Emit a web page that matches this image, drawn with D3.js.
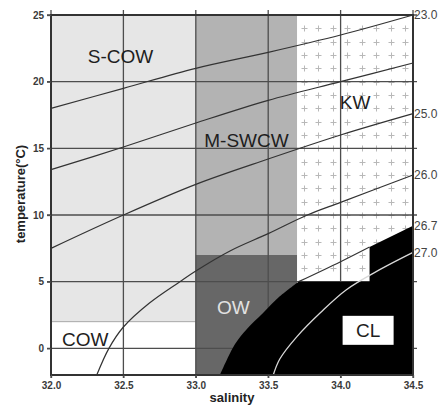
<!DOCTYPE html>
<html>
<head>
<meta charset="utf-8">
<script src="https://cdn.jsdelivr.net/npm/d3@7"></script>
<style>
  body { margin: 0; background: #fff; }
  svg { display: block; font-family: "Liberation Sans", Arial, Helvetica, sans-serif; }
</style>
</head>
<body>
<svg id="chart" width="443" height="407"></svg>
<script>
// T-S diagram: water mass domains with sigma-t isopycnals

const salinityTicks = [32.0, 32.5, 33.0, 33.5, 34.0, 34.5];
const temperatureTicks = [0, 5, 10, 15, 20, 25];

// water mass boxes: [salinity min, salinity max, temperature min, temperature max]
const massNames = ["S-COW", "COW", "M-SWCW", "OW", "KW", "CL"];
const sCowBox = [32.0, 33.0, 2, 25];
const cowBox = [32.0, 33.0, -2, 2];
const mSwcwBox = [33.0, 33.7, 7, 25];
const owBox = [33.0, 33.7, -2, 7];
const kwBox = [33.7, 34.5, 5, 25];
const kwStepSalinity = 34.2;   // KW reaches down to 5 °C only up to this salinity

// isopycnals, points as [salinity, temperature]
const sigma230 = [[32.0, 18.0], [32.5, 19.5], [33.0, 21.0], [33.5, 22.2], [34.0, 23.5], [34.5, 25.0]];
const sigma240 = [[32.0, 13.4], [32.5, 15.1], [33.0, 16.9], [33.5, 18.6], [34.0, 20.0], [34.5, 21.4]];
const sigma250 = [[32.0, 7.5], [32.5, 10.0], [33.0, 12.3], [33.5, 14.2], [34.0, 16.0], [34.5, 17.6]];
const sigma260 = [[32.316, -2.0], [32.4, 0.0], [32.5, 1.6], [32.68, 3.4], [32.89, 5.0], [33.0, 5.8],
                  [33.236, 7.3], [33.5, 8.6], [33.77, 10.0], [34.0, 10.95], [34.5, 13.0]];
const sigma267 = [[33.167, -2.0], [33.27, 0.3], [33.35, 1.42], [33.466, 2.67], [33.58, 3.9], [33.71, 5.0],
                  [34.0, 6.5], [34.2, 7.6], [34.5, 9.2]];
const sigma270 = [[33.535, -2.0], [33.58, -0.8], [33.70, 0.9], [33.86, 2.67], [34.04, 4.4], [34.27, 5.9], [34.5, 7.2]];

const isopycnals = [sigma230, sigma240, sigma250, sigma260, sigma267, sigma270];
const isopycnalNames = ["23.0", "", "25.0", "26.0", "26.7", "27.0"];

const svg = d3.select("#chart");
const x = d3.scaleLinear().domain([32, 34.5]).range([51, 413]);
const y = d3.scaleLinear().domain([-2, 25]).range([375, 15]);

const line = d3.line()
  .x(d => x(d[0]))
  .y(d => y(d[1]))
  .curve(d3.curveCatmullRom.alpha(0.5));

// ---- water mass boxes
function box(b, fill) {
  return svg.append("rect")
    .attr("x", x(b[0])).attr("y", y(b[3]))
    .attr("width", x(b[1]) - x(b[0]))
    .attr("height", y(b[2]) - y(b[3]))
    .attr("fill", fill);
}
box(sCowBox, "#e6e6e6");
box(cowBox, "#ffffff");
box(mSwcwBox, "#b3b3b3");
box(owBox, "#676767");
box(kwBox, "#ffffff");

// boundary between COW and S-COW
svg.append("line")
  .attr("x1", x(sCowBox[0])).attr("x2", x(sCowBox[1]))
  .attr("y1", y(sCowBox[2])).attr("y2", y(sCowBox[2]))
  .attr("stroke", "#a8a8a8").attr("stroke-width", 1);

// ---- KW hatching: small crosses every 0.1 psu and 1 °C
const crossS = d3.range(33.745, kwBox[1], 0.1);
const crossT = d3.range(kwBox[2] + 1, kwBox[3], 1);
const crosses = svg.append("g").attr("stroke", "#b8b8b8").attr("stroke-width", 1);
crossS.forEach(s => crossT.forEach(t => {
  const cx = Math.round(x(s)) + 0.5, cy = Math.round(y(t)) + 0.5;
  crosses.append("path").attr("d", `M${cx - 3},${cy}H${cx + 3}M${cx},${cy - 3}V${cy + 3}`);
}));

// ---- grid
const grid = svg.append("g").attr("stroke", "#4d4d4d").attr("stroke-width", 1.3);
temperatureTicks.forEach(t => {
  grid.append("line").attr("x1", x(32) - 4).attr("x2", x(34.5) + 4)
    .attr("y1", y(t)).attr("y2", y(t));
});
salinityTicks.forEach(s => {
  grid.append("line").attr("x1", x(s)).attr("x2", x(s))
    .attr("y1", y(25) - 5).attr("y2", y(-2) + 3);
});

// ---- isopycnals over the light domains
svg.append("g").selectAll("path")
  .data([sigma230, sigma240, sigma250, sigma260])
  .join("path")
  .attr("d", line)
  .attr("fill", "none")
  .attr("stroke", "#333")
  .attr("stroke-width", 1.2);

// 26.7 inside KW (between the 5 °C floor and the step)
svg.append("path")
  .attr("d", line(sigma267.filter(d => d[0] >= 33.71 && d[0] <= kwStepSalinity)))
  .attr("fill", "none").attr("stroke", "#333").attr("stroke-width", 1.2);

// ---- CL: everything denser than sigma-t 26.7, except the KW corner
const lowerPart = sigma267.filter(d => d[1] <= kwBox[2]);
const upperPart = sigma267.filter(d => d[0] >= kwStepSalinity);
const clPath = line(lowerPart)
  + "L" + x(kwStepSalinity) + "," + y(kwBox[2])
  + line(upperPart).replace(/^M/, "L")
  + "L" + x(34.5) + "," + y(-2)
  + "L" + x(lowerPart[0][0]) + "," + y(-2) + "Z";
svg.append("path").attr("d", clPath).attr("fill", "#000");

// 27.0 drawn light over the black
svg.append("path")
  .attr("d", line(sigma270))
  .attr("fill", "none").attr("stroke", "#d8d8d8").attr("stroke-width", 1.3);

// ---- frame
svg.append("rect")
  .attr("x", x(32)).attr("y", y(25))
  .attr("width", x(34.5) - x(32)).attr("height", y(-2) - y(25))
  .attr("fill", "none").attr("stroke", "#333").attr("stroke-width", 2);

// ---- axes
const yAxis = svg.append("g")
  .attr("transform", `translate(${x(32)},0)`)
  .call(d3.axisLeft(y).tickValues(temperatureTicks).tickSize(4).tickPadding(3).tickFormat(d3.format("d")));
const xAxis = svg.append("g")
  .attr("transform", `translate(0,${y(-2)})`)
  .call(d3.axisBottom(x).tickValues(salinityTicks).tickSize(3).tickPadding(4).tickFormat(d3.format(".1f")));
[yAxis, xAxis].forEach(a => {
  a.select(".domain").remove();
  a.selectAll(".tick line").attr("stroke", "#4d4d4d").attr("stroke-width", 1.3);
  a.selectAll(".tick text")
    .attr("font-family", "'Liberation Sans', Arial, sans-serif")
    .attr("font-size", 10).attr("font-weight", "bold").attr("fill", "#3a3a3a");
});

svg.append("text")
  .attr("x", (x(32) + x(34.5)) / 2).attr("y", 402)
  .attr("text-anchor", "middle")
  .attr("font-size", 13).attr("font-weight", "bold").attr("fill", "#222")
  .text("salinity");
svg.append("text")
  .attr("transform", `translate(25,${194}) rotate(-90)`)
  .attr("text-anchor", "middle")
  .attr("font-size", 13).attr("font-weight", "bold").attr("fill", "#222")
  .text("temperature(°C)");

// ---- isopycnal labels at the right end of each line
svg.append("g").selectAll("text")
  .data(isopycnals.map((pts, i) => ({ p: pts[pts.length - 1], name: isopycnalNames[i] }))
    .filter(d => d.name))
  .join("text")
  .attr("x", d => x(d.p[0]) + 1)
  .attr("y", d => y(d.p[1]))
  .attr("dy", "0.35em")
  .attr("font-size", 12).attr("fill", "#444")
  .text(d => d.name);

// ---- water mass names
const namePos = {
  "S-COW": [32.48, 21.9],
  "COW": [32.237, 0.7],
  "M-SWCW": [33.35, 15.6],
  "OW": [33.26, 3.05],
  "KW": [34.1, 18.45],
  "CL": [34.19, 1.35]
};
// white label plate in CL
svg.append("rect")
  .attr("x", x(namePos.CL[0]) - 25.5).attr("y", y(namePos.CL[1]) - 14.5)
  .attr("width", 51).attr("height", 29).attr("fill", "#fff");

svg.append("g").selectAll("text")
  .data(massNames)
  .join("text")
  .attr("x", d => x(namePos[d][0]))
  .attr("y", d => y(namePos[d][1]))
  .attr("dy", "0.35em")
  .attr("text-anchor", "middle")
  .attr("font-size", 19)
  .attr("fill", d => d === "OW" ? "#e2e2e2" : "#1e1e1e")
  .text(d => d);
</script>
</body>
</html>
